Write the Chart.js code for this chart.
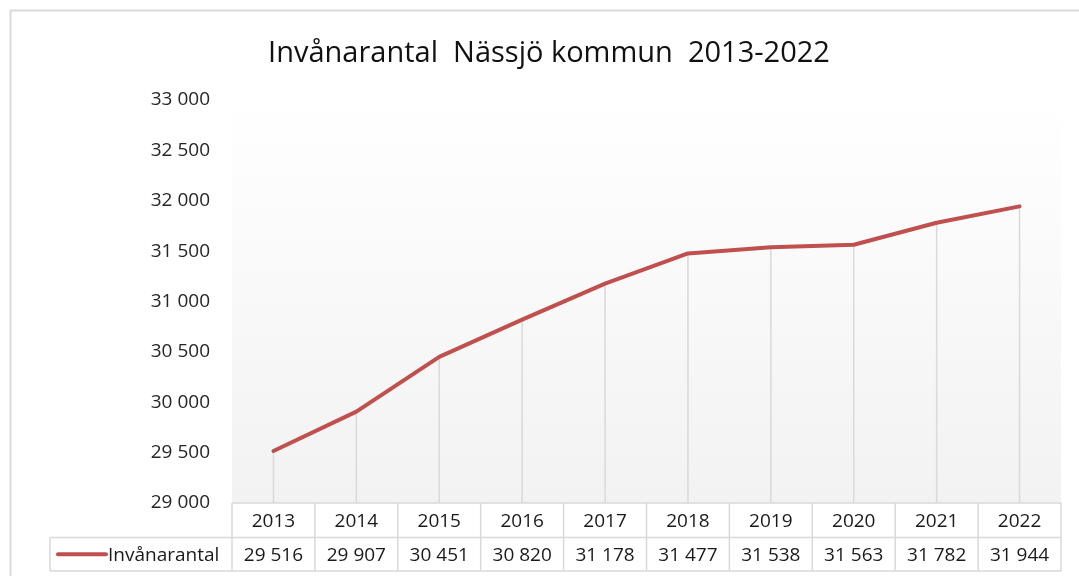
<!DOCTYPE html>
<html lang="sv">
<head>
<meta charset="utf-8">
<title>Invånarantal Nässjö kommun 2013-2022</title>
<script src="https://cdn.jsdelivr.net/npm/chart.js@4/dist/chart.umd.min.js"></script>
<style>
    html, body { margin: 0; padding: 0; background: #fff; }
    #chart { display: block; }
</style>
</head>
<body>
<canvas id="chart" width="1079" height="576"></canvas>
<script>
// ============================================================
// Data
// ============================================================

const TITLE = 'Invånarantal  Nässjö kommun  2013-2022';
const SERIES_NAME = 'Invånarantal';
const years = ['2013', '2014', '2015', '2016', '2017', '2018', '2019', '2020', '2021', '2022'];
const population = [29516, 29907, 30451, 30820, 31178, 31477, 31538, 31563, 31782, 31944];
const yMin = 29000;
const yMax = 33000;
const yStep = 500;

const LINE_COLOR = '#C0504D';
const BORDER_COLOR = '#d9d9d9';
const FONT = '"Open Sans", "Noto Sans", sans-serif';

function formatNumber(n) {
    return String(n).replace(/\B(?=(\d{3})+(?!\d))/g, ' ');
}

// ============================================================
// Plugins
// ============================================================

// white page, outer frame, title and the grey gradient behind the plot
const backgroundPlugin = {
    id: 'background',
    beforeDraw(chart) {
        const { ctx, chartArea: a } = chart;
        ctx.save();
        ctx.fillStyle = '#ffffff';
        ctx.fillRect(0, 0, chart.width, chart.height);

        ctx.strokeStyle = BORDER_COLOR;
        ctx.lineWidth = 2;
        ctx.beginPath();
        ctx.moveTo(10.5, chart.height);
        ctx.lineTo(10.5, 10.5);
        ctx.lineTo(chart.width, 10.5);
        ctx.stroke();

        const grad = ctx.createLinearGradient(0, a.top, 0, a.bottom);
        grad.addColorStop(0, '#ffffff');
        grad.addColorStop(1, '#f2f2f2');
        ctx.fillStyle = grad;
        ctx.fillRect(a.left, a.top, a.right - a.left, a.bottom - a.top);

        ctx.fillStyle = '#111111';
        ctx.font = '29px ' + FONT;
        ctx.textAlign = 'center';
        ctx.textBaseline = 'alphabetic';
        ctx.fillText(TITLE, 549, 62);
        ctx.restore();
    }
};

// vertical drop lines from each point down to the axis
const dropLinesPlugin = {
    id: 'dropLines',
    beforeDatasetsDraw(chart) {
        const { ctx, chartArea: a } = chart;
        const meta = chart.getDatasetMeta(0);
        ctx.save();
        ctx.strokeStyle = BORDER_COLOR;
        ctx.lineWidth = 1.5;
        meta.data.forEach(function(pt) {
            ctx.beginPath();
            ctx.moveTo(pt.x, pt.y);
            ctx.lineTo(pt.x, a.bottom);
            ctx.stroke();
        });
        ctx.restore();
    }
};

// data table under the plot (years + values, legend key on the left)
const dataTablePlugin = {
    id: 'dataTable',
    afterDraw(chart) {
        const { ctx, chartArea: a } = chart;
        const x = chart.scales.x;
        const colW = x.getPixelForValue(1) - x.getPixelForValue(0);
        const row1Top = a.bottom;
        const row2Top = a.bottom + 34.5;
        const row2Bottom = row2Top + 33.5;
        const legendLeft = 50;

        ctx.save();
        ctx.strokeStyle = BORDER_COLOR;
        ctx.lineWidth = 1.5;
        ctx.beginPath();
        // horizontal rules
        ctx.moveTo(a.left, row1Top); ctx.lineTo(a.right, row1Top);
        ctx.moveTo(legendLeft, row2Top); ctx.lineTo(a.right, row2Top);
        ctx.moveTo(legendLeft, row2Bottom); ctx.lineTo(a.right, row2Bottom);
        // legend cell left edge
        ctx.moveTo(legendLeft, row2Top); ctx.lineTo(legendLeft, row2Bottom);
        // column separators
        for (let i = 0; i <= years.length; i++) {
            const cx = x.getPixelForValue(i) - colW / 2;
            ctx.moveTo(cx, row1Top); ctx.lineTo(cx, row2Bottom);
        }
        ctx.stroke();

        ctx.fillStyle = '#1a1a1a';
        ctx.font = '19px ' + FONT;
        ctx.textAlign = 'center';
        ctx.textBaseline = 'middle';
        years.forEach(function(yr, i) {
            const cx = x.getPixelForValue(i);
            ctx.fillText(yr, cx, (row1Top + row2Top) / 2 + 1);
            ctx.fillText(formatNumber(population[i]), cx, (row2Top + row2Bottom) / 2 + 1);
        });

        // legend key
        const ly = (row2Top + row2Bottom) / 2;
        ctx.strokeStyle = LINE_COLOR;
        ctx.lineWidth = 4;
        ctx.lineCap = 'round';
        ctx.beginPath();
        ctx.moveTo(58, ly);
        ctx.lineTo(106, ly);
        ctx.stroke();
        ctx.textAlign = 'left';
        ctx.fillText(SERIES_NAME, 108, ly + 1);
        ctx.restore();
    }
};

// ============================================================
// Chart
// ============================================================

new Chart(document.getElementById('chart'), {
    type: 'line',
    data: {
        labels: years,
        datasets: [{
            label: SERIES_NAME,
            data: population,
            borderColor: LINE_COLOR,
            backgroundColor: LINE_COLOR,
            borderWidth: 4,
            pointRadius: 0,
            tension: 0,
            fill: false,
            borderCapStyle: 'round',
            borderJoinStyle: 'round'
        }]
    },
    options: {
        responsive: false,
        animation: false,
        devicePixelRatio: 1,
        layout: { padding: { top: 100, right: 18, bottom: 73, left: 0 } },
        plugins: {
            legend: { display: false },
            title: { display: false },
            tooltip: { enabled: false }
        },
        scales: {
            x: {
                display: false,
                offset: true
            },
            y: {
                min: yMin,
                max: yMax,
                grid: { display: false, drawTicks: false },
                border: { display: false },
                ticks: {
                    stepSize: yStep,
                    padding: 22,
                    color: '#262626',
                    font: { family: FONT, size: 19 },
                    callback: function(value) { return formatNumber(value); }
                },
                afterFit: function(scale) { scale.width = 232; }
            }
        }
    },
    plugins: [backgroundPlugin, dropLinesPlugin, dataTablePlugin]
});
</script>
</body>
</html>
